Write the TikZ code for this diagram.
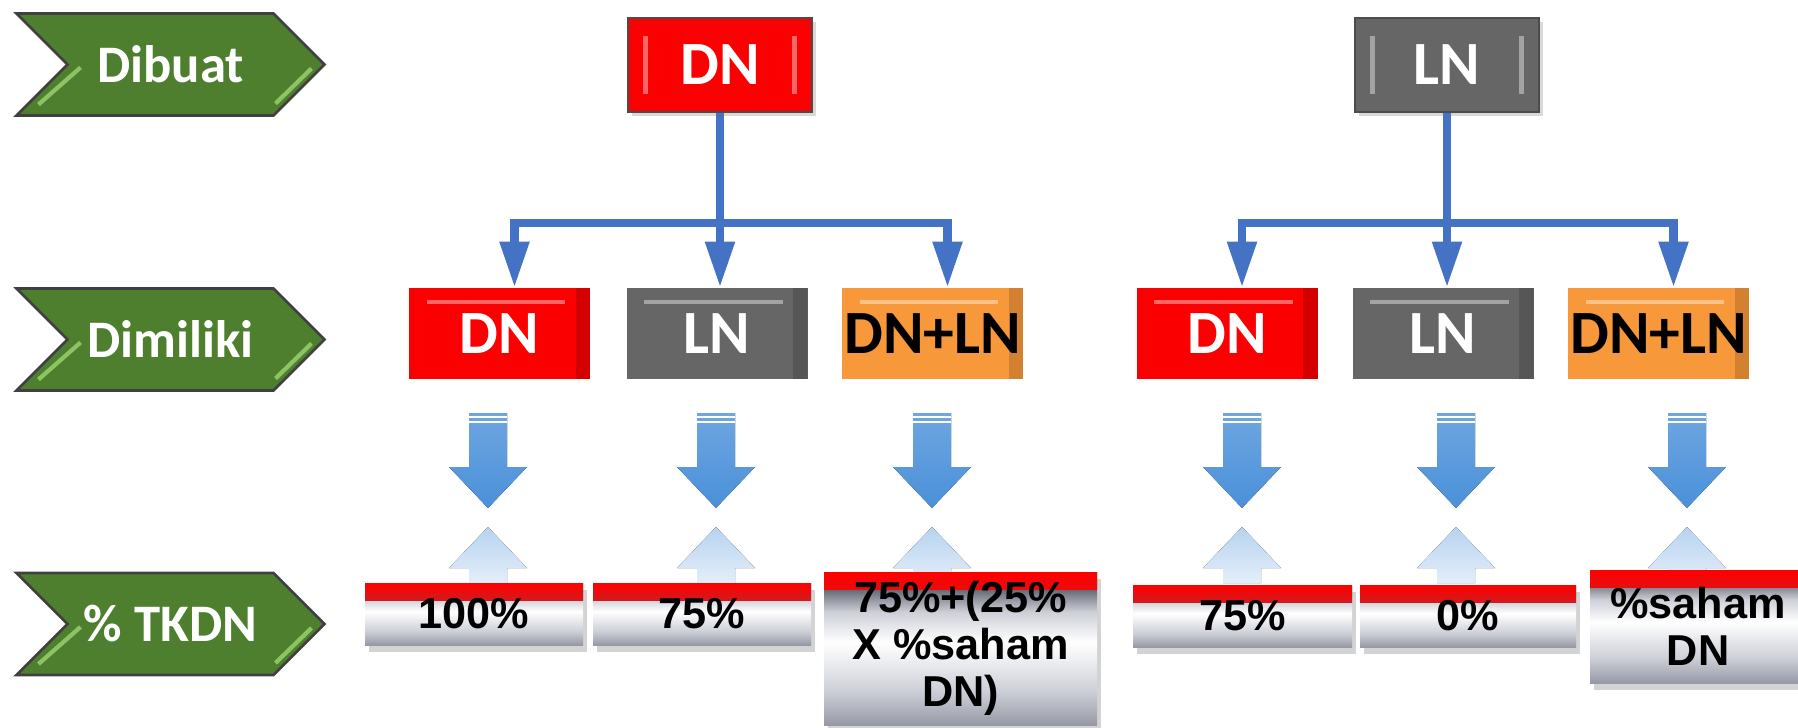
\documentclass[tikz,border=0pt]{standalone}
\usepackage{fontspec}
\setmainfont{Carlito}
\newfontfamily\barfont{Liberation Sans}
\usetikzlibrary{shapes.symbols,shadows,arrows.meta}

\definecolor{chevgreen}{RGB}{78,127,46}
\definecolor{chevlight}{RGB}{140,196,100}
\definecolor{dnred}{RGB}{250,0,0}
\definecolor{lngray}{RGB}{102,102,102}
\definecolor{mixorange}{RGB}{247,152,58}
\definecolor{treeblue}{RGB}{68,114,196}
\definecolor{flowblue}{RGB}{74,144,217}
\definecolor{barlow}{RGB}{150,153,165}
\definecolor{barmid}{RGB}{205,207,215}
\definecolor{bardark}{RGB}{92,95,108}

\pgfdeclareverticalshading{metalbar}{100bp}{color(0bp)=(barlow); color(25bp)=(barlow); color(36bp)=(barmid); color(52bp)=(white); color(62bp)=(barmid); color(70bp)=(bardark); color(75bp)=(bardark); color(100bp)=(bardark)}

\tikzset{
  chevron/.style={shape=signal, signal from=west, signal to=east, signal pointer angle=90,
    fill=chevgreen, draw=black!75, line width=0.8pt, minimum width=3.08cm, minimum height=1.02cm,
    inner sep=0pt, text=white, font=\bfseries\fontsize{15}{18}\selectfont},
  keybox/.style={draw=black!70, line width=0.6pt, minimum width=1.84cm, minimum height=0.94cm,
    inner sep=0pt, font=\bfseries\fontsize{17.5}{20}\selectfont,
    drop shadow={shadow xshift=1pt, shadow yshift=-1pt, opacity=0.3},
    path picture={
      \draw[white, opacity=0.4, line width=1.2pt] ([xshift=5pt,yshift=-5pt]path picture bounding box.north west) -- ([xshift=5pt,yshift=5pt]path picture bounding box.south west);
      \draw[white, opacity=0.4, line width=1.2pt] ([xshift=-5pt,yshift=-5pt]path picture bounding box.north east) -- ([xshift=-5pt,yshift=5pt]path picture bounding box.south east);
    }},
  ownbox/.style={minimum width=1.81cm, minimum height=0.91cm, inner sep=0pt,
    font=\bfseries\fontsize{17.5}{20}\selectfont,
    path picture={
      \fill[black, opacity=0.15] ([xshift=-4pt]path picture bounding box.north east) -- (path picture bounding box.north east) -- (path picture bounding box.south east) -- ([xshift=-4pt]path picture bounding box.south east) -- cycle;
      \draw[white, opacity=0.4, line width=1.2pt] ([xshift=5pt,yshift=-4pt]path picture bounding box.north west) -- ([xshift=-7pt,yshift=-4pt]path picture bounding box.north east);
    }},
  tkdnbar/.style={shading=metalbar, minimum height=0.62cm, inner sep=0pt, align=center,
    font=\barfont\bfseries\fontsize{12.3}{13.4}\selectfont,
    drop shadow={shadow xshift=1pt, shadow yshift=-2pt, opacity=0.35},
    path picture={
      \shade[top color=red, middle color=red!70!bardark, bottom color=bardark] (path picture bounding box.north west) rectangle ([yshift=-0.17cm]path picture bounding box.north east);
    }},
  treeline/.style={treeblue, line width=2.3pt},
  tree/.style={treeline, -{Triangle[width=8pt,length=13pt]}},
}

\begin{document}
\begin{tikzpicture}
  \useasboundingbox (0,0) rectangle (17.98,7.27);

  % row labels
  \node[chevron] (dibuat) at (1.705,6.625) {Dibuat};
  \node[chevron] (dimiliki) at (1.705,3.875) {Dimiliki};
  \node[chevron] (tkdn) at (1.705,1.03) {\% TKDN};
  \foreach \c in {dibuat,dimiliki,tkdn} {
    \draw[chevlight, line width=1.2pt] ([shift={(-0.90,-0.03)}]\c.center) -- ([shift={(-1.32,-0.40)}]\c.center);
    \draw[chevlight, line width=1.2pt] ([shift={(1.41,-0.04)}]\c.center) -- ([shift={(1.05,-0.39)}]\c.center);
  }

  % made in
  \node[keybox, fill=dnred, text=white] (dnTop) at (7.20,6.62) {DN};
  \node[keybox, fill=lngray, text=white] (lnTop) at (14.47,6.62) {LN};

  % owned by
  \node[ownbox, fill=dnred, text=white] (dnDn) at (4.995,3.935) {DN};
  \node[ownbox, fill=lngray, text=white] (dnLn) at (7.17,3.935) {LN};
  \node[ownbox, fill=mixorange] (dnMix) at (9.325,3.935) {DN+LN};
  \node[ownbox, fill=dnred, text=white] (lnDn) at (12.27,3.935) {DN};
  \node[ownbox, fill=lngray, text=white] (lnLn) at (14.43,3.935) {LN};
  \node[ownbox, fill=mixorange] (lnMix) at (16.585,3.935) {DN+LN};

  % tree connectors
  \coordinate (dnHub) at (7.20,5.04);
  \coordinate (lnHub) at (14.47,5.04);
  \draw[treeline] (dnTop.south) -- (dnHub);
  \draw[tree] (dnHub) -| ([xshift=0.15cm]dnDn.north);
  \draw[tree] (dnHub) -- (dnHub |- dnLn.north);
  \draw[tree] (dnHub) -| ([xshift=0.15cm]dnMix.north);
  \draw[treeline] (lnTop.south) -- (lnHub);
  \draw[tree] (lnHub) -| ([xshift=0.15cm]lnDn.north);
  \draw[tree] (lnHub) -- (lnHub |- lnLn.north);
  \draw[tree] (lnHub) -| ([xshift=0.15cm]lnMix.north);

  % block arrows with their reflection
  \foreach \x in {4.88,7.16,9.32,12.42,14.56,16.87} {
    \fill[top color=flowblue!80!white, bottom color=flowblue] (\x-0.19,3.14) -- (\x+0.19,3.14) -- (\x+0.19,2.60) -- (\x+0.39,2.60) -- (\x,2.19) -- (\x-0.39,2.60) -- (\x-0.19,2.60) -- cycle;
    \draw[white, line width=0.7pt] (\x-0.19,3.10) -- (\x+0.19,3.10);
    \draw[white, line width=0.7pt] (\x-0.19,3.05) -- (\x+0.19,3.05);
    \fill[top color=flowblue!40!white, bottom color=flowblue!15!white] (\x,2.00) -- (\x+0.39,1.59) -- (\x+0.19,1.59) -- (\x+0.19,1.44) -- (\x-0.19,1.44) -- (\x-0.19,1.59) -- (\x-0.39,1.59) -- cycle;
  }

  % TKDN values
  \node[tkdnbar, minimum width=2.18cm] (dnDnPct) at (4.74,1.13) {100\%};
  \node[tkdnbar, minimum width=2.18cm] (dnLnPct) at (7.02,1.13) {75\%};
  \node[tkdnbar, minimum width=2.73cm, minimum height=1.53cm] (dnMixPct) at (9.605,0.785) {75\%+(25\%\\X \%saham\\DN)};
  \node[tkdnbar, minimum width=2.19cm] (lnDnPct) at (12.425,1.11) {75\%};
  \node[tkdnbar, minimum width=2.16cm] (lnLnPct) at (14.68,1.11) {0\%};
  \node[tkdnbar, minimum width=2.16cm, minimum height=1.13cm] (lnMixPct) at (16.98,1.005) {\%saham\\DN};
\end{tikzpicture}
\end{document}
